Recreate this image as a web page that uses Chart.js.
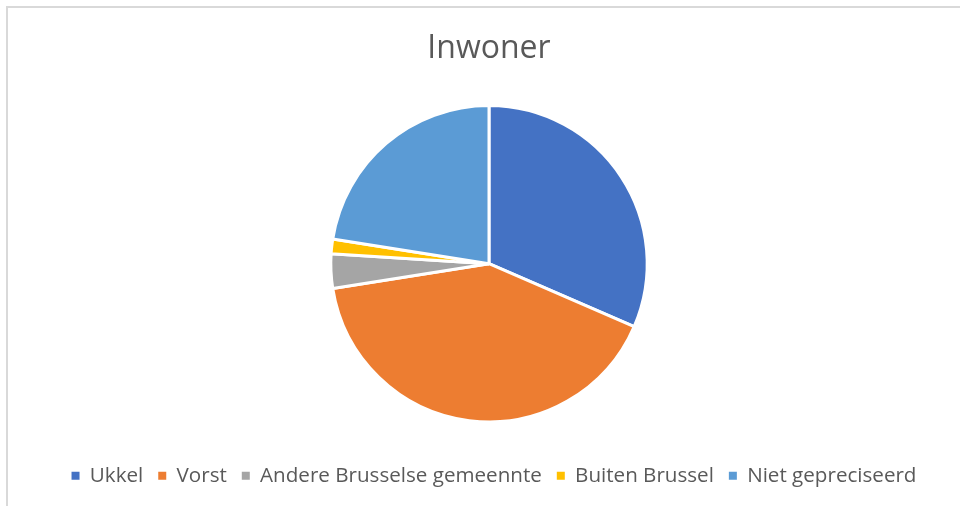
<!DOCTYPE html>
<html>
<head>
<meta charset="utf-8">
<script src="https://cdn.jsdelivr.net/npm/chart.js@4"></script>
<style>
  html, body { margin: 0; padding: 0; background: #fff; overflow: hidden; }
  #frame {
    position: absolute; left: 6px; top: 6px;
    border-left: 2px solid #d9d9d9; border-top: 2px solid #d9d9d9;
    width: 962px; height: 498px;
  }
</style>
</head>
<body>
<div id="frame"><canvas id="pieChart"></canvas></div>
<script>
  // Data
  const labels = ['Ukkel', 'Vorst', 'Andere Brusselse gemeennte', 'Buiten Brussel', 'Niet gepreciseerd'];
  const values = [63, 82, 7, 3, 45];
  const colors = ['#4472C4', '#ED7D31', '#A5A5A5', '#FFC000', '#5B9BD5'];

  Chart.defaults.font.family = "'Open Sans', sans-serif";
  Chart.defaults.color = '#595959';

  // nudge the legend row a little to the right, like the original
  const legendShift = {
    id: 'legendShift',
    afterLayout(chart) {
      if (chart.legend) {
        chart.legend.left += 5;
        chart.legend.right += 5;
      }
    }
  };

  const ctx = document.getElementById('pieChart').getContext('2d');
  new Chart(ctx, {
    type: 'pie',
    data: {
      labels: labels,
      datasets: [{
        data: values,
        backgroundColor: colors,
        borderColor: '#ffffff',
        borderWidth: 3
      }]
    },
    plugins: [legendShift],
    options: {
      responsive: true,
      maintainAspectRatio: false,
      animation: false,
      layout: { padding: { bottom: 10 } },
      plugins: {
        title: {
          display: true,
          text: 'Inwoner',
          color: '#595959',
          font: { size: 32, weight: 'normal' },
          padding: { top: 21.8, bottom: 35.8 }
        },
        legend: {
          position: 'bottom',
          title: { display: true, text: '', font: { size: 12 }, padding: { top: 12.6, bottom: 0 } },
          labels: {
            boxWidth: 8,
            boxHeight: 8,
            padding: 15,
            color: '#595959',
            font: { size: 20.6 },
            generateLabels(chart) {
              const items = Chart.overrides.pie.plugins.legend.labels.generateLabels(chart);
              items.forEach(it => { it.lineWidth = 0; });
              return items;
            }
          }
        },
        tooltip: { enabled: false }
      }
    }
  });
</script>
</body>
</html>
